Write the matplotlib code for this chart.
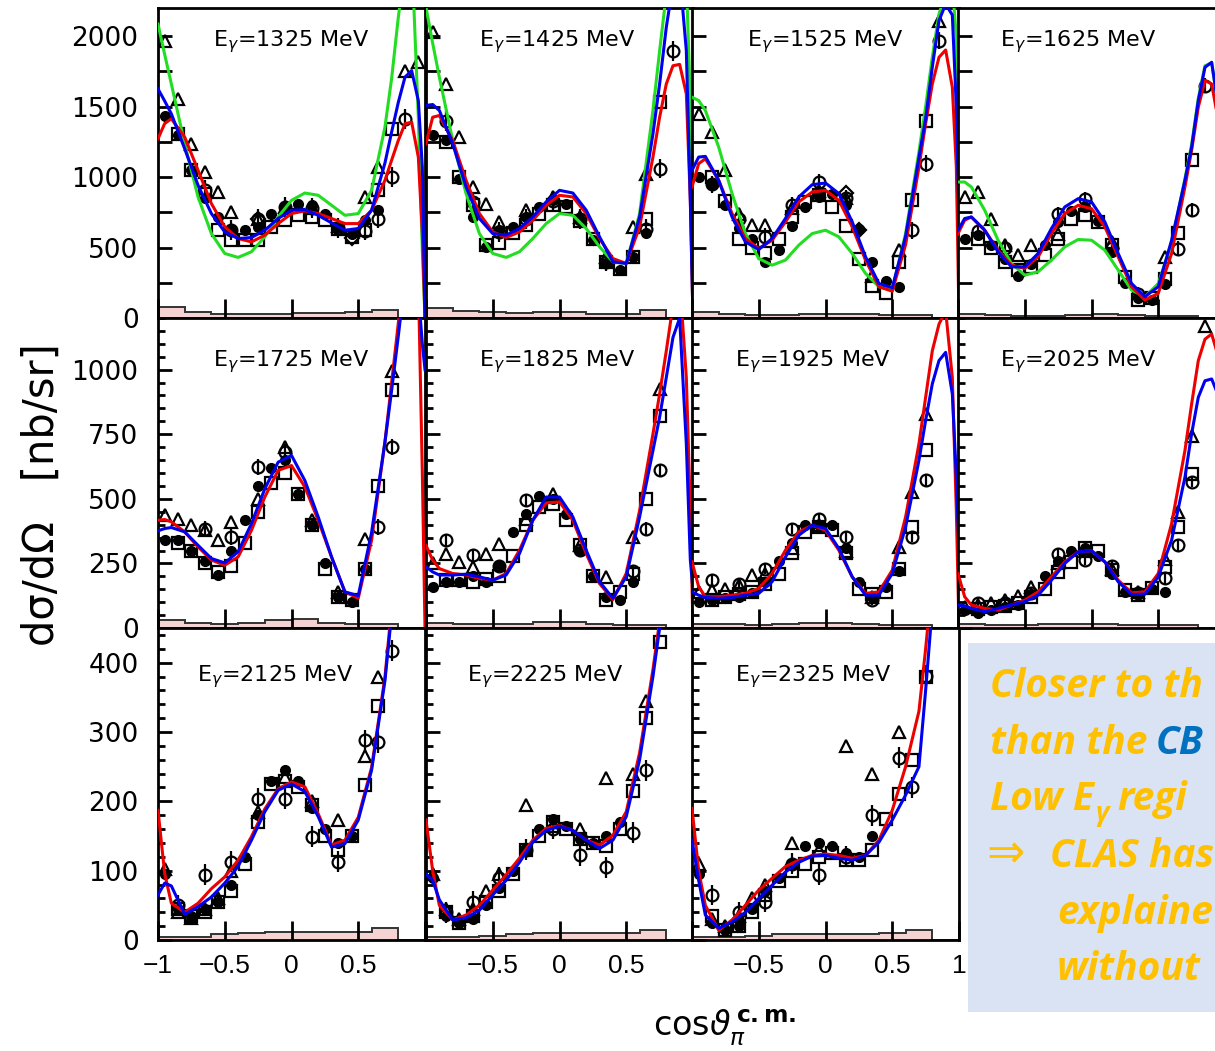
import numpy as np
import matplotlib
matplotlib.use("Agg")
import matplotlib.pyplot as plt
from matplotlib.patches import Rectangle
from matplotlib.ticker import MultipleLocator, FixedLocator

nan = np.nan

ENERGIES = [1325, 1425, 1525, 1625, 1725, 1825, 1925, 2025, 2125, 2225, 2325]

# x grid of the model curves (cos theta)
XC = [-1, -0.95, -0.9, -0.8, -0.7, -0.6, -0.5, -0.4, -0.3, -0.2, -0.1, 0, 0.1,
      0.2, 0.3, 0.4, 0.5, 0.6, 0.7, 0.75, 0.8, 0.85, 0.9, 0.95, 0.98, 1.0]

RED = {
    1325: [1272, 1380, 1414, 1284, 1048, 812, 647, 564, 540, 588, 670, 741, 760, 741, 706, 670, 670, 765, 977, 1120, 1260, 1378, 1390, 1142, 600, 0],
    1425: [1237, 1425, 1437, 1260, 977, 741, 611, 571, 611, 694, 800, 871, 859, 741, 564, 422, 387, 647, 1142, 1425, 1661, 1790, 1800, 1591, 835, 0],
    1525: [930, 1095, 1130, 977, 741, 564, 493, 552, 682, 824, 894, 906, 835, 647, 411, 222, 190, 520, 1071, 1378, 1661, 1850, 1902, 1638, 1071, 0],
    1625: [599, 694, 717, 623, 481, 375, 352, 434, 599, 741, 800, 776, 647, 434, 222, 127, 175, 458, 930, 1190, 1496, 1685, 1661, 1400, 900, 0],
    1725: [417, 420, 411, 372, 314, 263, 243, 275, 378, 507, 610, 629, 546, 417, 275, 140, 115, 340, 720, 950, 1180, 1400, 1500, 1350, 600, 0],
    1825: [320, 263, 230, 211, 205, 192, 185, 211, 301, 417, 484, 488, 417, 288, 172, 110, 211, 455, 751, 906, 1073, 1250, 1350, 970, 455, 0],
    1925: [256, 160, 121, 121, 127, 134, 153, 211, 301, 372, 398, 378, 301, 198, 134, 140, 224, 430, 713, 893, 1073, 1176, 1228, 970, 455, 0],
    2025: [211, 121, 89, 76, 69, 89, 108, 140, 198, 256, 295, 299, 256, 185, 136, 140, 211, 404, 687, 867, 1035, 1118, 1138, 1050, 800, 400],
    2125: [187, 96, 53, 40, 53, 74, 91, 115, 149, 189, 218, 228, 221, 182, 137, 144, 177, 249, 379, 480, 560, 620, 680, 720, 740, 750],
    2225: [173, 100, 50, 29, 36, 50, 72, 94, 118, 144, 161, 165, 158, 144, 137, 151, 185, 270, 390, 460, 540, 600, 650, 690, 700, 700],
    2325: [190, 100, 50, 14, 29, 50, 72, 89, 106, 115, 122, 124, 122, 118, 122, 144, 187, 250, 330, 420, 520, 600, 650, 690, 700, 700],
}

BLUE = {
    1325: [1626, 1540, 1449, 1201, 942, 741, 611, 564, 571, 623, 706, 765, 769, 729, 675, 623, 635, 765, 1100, 1320, 1530, 1709, 1756, 1543, 1071, 0],
    1425: [1508, 1515, 1473, 1237, 930, 706, 599, 588, 635, 717, 824, 906, 887, 765, 576, 399, 387, 717, 1307, 1661, 2063, 2370, 2450, 1897, 835, 0],
    1525: [1048, 1142, 1147, 977, 717, 540, 486, 564, 706, 859, 946, 958, 883, 682, 434, 245, 215, 580, 1140, 1414, 1780, 2110, 2228, 2150, 1500, 700],
    1625: [623, 706, 717, 623, 470, 363, 363, 458, 635, 788, 847, 824, 682, 458, 245, 151, 222, 552, 977, 1213, 1543, 1779, 1815, 1500, 1000, 300],
    1725: [376, 385, 389, 372, 320, 269, 252, 295, 404, 539, 642, 668, 571, 430, 275, 140, 125, 370, 720, 920, 1130, 1350, 1450, 1300, 1100, 1000],
    1825: [237, 217, 205, 205, 208, 198, 185, 205, 288, 417, 507, 507, 430, 301, 179, 115, 198, 430, 687, 816, 970, 1125, 1200, 713, 263, 147],
    1925: [140, 127, 118, 115, 118, 127, 134, 179, 275, 359, 398, 385, 308, 198, 127, 127, 211, 391, 649, 803, 945, 1035, 1067, 906, 584, 300],
    2025: [89, 85, 76, 63, 76, 89, 102, 127, 185, 250, 295, 299, 256, 179, 130, 131, 198, 340, 584, 752, 893, 957, 964, 900, 700, 400],
    2125: [65, 82, 78, 37, 48, 62, 82, 106, 144, 185, 216, 225, 214, 178, 134, 139, 173, 245, 374, 470, 550, 610, 670, 710, 730, 740],
    2225: [95, 86, 58, 29, 32, 43, 65, 86, 112, 141, 158, 164, 158, 144, 132, 144, 178, 260, 380, 450, 530, 590, 640, 680, 690, 690],
    2325: [144, 86, 36, 17, 26, 40, 60, 79, 98, 112, 121, 122, 118, 115, 122, 141, 173, 209, 250, 360, 480, 570, 630, 670, 690, 690],
}

GREEN = {
    1325: [2086, 1870, 1661, 1237, 859, 599, 458, 430, 470, 576, 717, 835, 887, 871, 800, 729, 741, 906, 1355, 1700, 2133, 2500, 2600, 1425, 480, 0],
    1425: [2204, 1950, 1709, 1260, 883, 599, 458, 430, 470, 564, 670, 741, 729, 635, 505, 399, 387, 741, 1473, 1897, 2300, 2600, 2700, 2400, 1543, 0],
    1525: [1567, 1543, 1473, 1213, 883, 599, 422, 375, 411, 517, 599, 623, 576, 458, 316, 222, 198, 600, 1180, 1500, 1850, 2157, 2300, 2350, 2000, 900],
    1625: [965, 965, 930, 765, 552, 387, 304, 328, 411, 505, 557, 552, 481, 340, 198, 151, 245, 530, 990, 1230, 1560, 1790, 1810, 1500, 1000, 300],
}

# data points, one x grid per data set
XF = [-0.95, -0.85, -0.75, -0.65, -0.55, -0.45, -0.35, -0.25, -0.15, -0.05, 0.05, 0.15, 0.25, 0.35, 0.45, 0.55, 0.65]
XS = [-0.85, -0.75, -0.65, -0.55, -0.45, -0.35, -0.25, -0.15, -0.05, 0.05, 0.15, 0.25, 0.35, 0.45, 0.55, 0.65, 0.75]
XT = [-0.95, -0.85, -0.75, -0.65, -0.55, -0.45, -0.25, -0.05, 0.15, 0.35, 0.55, 0.65, 0.75, 0.85, 0.95]
XO = [-0.95, -0.85, -0.65, -0.45, -0.25, -0.05, 0.15, 0.35, 0.55, 0.65, 0.75, 0.85]
XD = [-0.25, 0.15, 0.25, 0.45]

FILLED = {
    1325: [1437, 1300, 1050, 850, 717, 623, 623, 647, 741, 788, 812, 800, 741, 647, 599, 694, 765],
    1425: [1296, 1260, 989, 717, 505, 623, 647, 717, 788, 835, 812, 694, 552, 387, 340, 434, 600],
    1525: [1000, 950, 800, 640, 560, 400, 480, 650, 790, 860, 880, 800, 630, 400, 260, 220, nan],
    1625: [560, 590, 520, 420, 300, 380, 520, 680, 760, 790, 690, 470, 250, 140, 130, 240, nan],
    1725: [340, 340, 300, 260, 205, 300, 420, 550, 620, 650, 520, 400, 250, 120, 100, 230, nan],
    1825: [160, 180, 180, 200, 180, 240, 370, 440, 510, 500, 440, 300, 200, 120, 110, 180, nan],
    1925: [100, 110, 115, 120, 135, 180, 260, 330, 400, 400, 400, 310, 180, 120, 160, 220, nan],
    2025: [70, 60, 70, 80, 90, 130, 200, 260, 300, 310, 280, 210, 140, 130, 150, 140, nan],
    2125: [95, 45, 35, 45, 55, 80, 120, 180, 230, 245, 230, 190, 160, 140, 150, nan, nan],
    2225: [90, 35, 25, 30, 50, 75, 100, 130, 160, 175, 165, 145, 140, 150, 170, nan, nan],
    2325: [95, 25, 15, 20, 45, 70, 90, 110, 135, 140, 135, 125, 120, 150, nan, nan, nan],
}

SQUARE = {
    1325: [1307, 1048, 883, 623, 552, 552, 552, 647, 694, 729, 717, 694, 635, 576, 623, 906, 1343],
    1425: [1250, 1000, 800, 520, 530, 600, 660, 740, 800, 790, 690, 560, 400, 350, 430, 700, 1530],
    1525: [1000, 830, 560, 500, 460, 560, 720, 820, 870, 790, 650, 420, 230, 180, 400, 840, 1400],
    1625: [560, 500, 400, 340, 360, 450, 560, 700, 730, 680, 520, 290, 130, 140, 280, 600, 1120],
    1725: [330, 300, 250, 215, 240, 330, 450, 560, 600, 520, 400, 230, 120, 110, 230, 550, 920],
    1825: [185, 185, 180, 190, 200, 280, 400, 470, 480, 420, 320, 200, 110, 140, 210, 500, 820],
    1925: [110, 120, 130, 140, 170, 210, 290, 370, 390, 380, 290, 150, 130, 140, 230, 390, 690],
    2025: [75, 80, 85, 95, 120, 150, 217, 256, 310, 300, 224, 147, 127, 153, 237, 391, 597],
    2125: [45, 35, 40, 55, 70, 110, 170, 225, 230, 220, 195, 150, 130, 150, 223, 338, nan],
    2225: [40, 25, 35, 55, 70, 95, 130, 150, 170, 160, 145, 140, 135, 160, 215, 320, 430],
    2325: [35, 15, 20, 40, 65, 85, 100, 110, 120, 125, 115, 115, 130, 175, 210, 260, 380],
}

TRIANGLE = {
    1325: [1968, 1555, 1237, 1036, 894, 753, 700, 790, 780, 650, 859, 1071, nan, 1756, 1815],
    1425: [2027, 1661, 1284, 930, 812, 682, 765, 860, 720, 434, 647, 1024, nan, nan, nan],
    1525: [1449, 1319, 1048, 741, 660, 658, 780, 900, 850, 300, 481, nan, nan, 2110, nan],
    1625: [859, 894, 706, 517, 446, 517, 599, 800, 540, nan, 434, nan, nan, nan, nan],
    1725: [436, 423, 398, 378, 340, 411, 501, 700, 420, 140, 346, nan, 996, nan, nan],
    1825: [250, 288, 256, 237, 288, 327, 423, 520, 320, 198, 353, nan, 925, nan, nan],
    1925: [140, 147, 150, 166, 205, 210, 308, 400, 300, 120, 314, 526, 829, nan, nan],
    2025: [80, 89, 95, 108, 125, 160, 250, 300, 230, 140, 269, 449, 745, 1170, nan],
    2125: [103, 40, 32, 45, 60, 100, 185, 235, 200, 173, 266, 379, nan, nan, nan],
    2225: [95, 45, 30, 45, 70, 95, 194, 165, 160, 233, 240, 345, nan, nan, nan],
    2325: [110, 30, 20, 35, 60, 80, 140, 130, 280, 240, 300, nan, nan, nan, nan],
}

OPEN = {
    1325: [nan, nan, 906, 623, 700, 790, 780, 640, 620, 706, 1001, 1414],
    1425: [nan, 1400, 820, 610, 700, 830, 700, 400, nan, 635, 1060, 1897],
    1525: [nan, 950, 700, 576, 800, 965, 850, nan, nan, 623, 1095, 1968],
    1625: [nan, 620, 500, nan, 741, 847, 500, 170, nan, 493, 765, 1650],
    1725: [nan, nan, 385, 353, 623, 681, nan, nan, nan, 391, 700, nan],
    1825: [nan, 340, 282, 240, 494, nan, 301, nan, 220, 385, 610, nan],
    1925: [nan, 185, 172, 230, 385, 423, 353, 108, nan, 353, 571, nan],
    2025: [nan, 95, 95, 134, 288, 262, 240, 134, 192, 320, 565, nan],
    2125: [nan, 50, 94, 113, 204, 204, 149, 113, 288, 285, 417, nan],
    2225: [nan, 40, 55, 90, 130, 160, 122, 105, 155, 245, nan, nan],
    2325: [nan, 65, 40, 55, 110, 94, 120, 180, 263, 220, 381, nan],
}
OPEN_ERR = [70, 70, 60, 50, 30, 25, 20, 20, 15, 15, 15]

DIAMOND = {
    1325: [706, nan, nan, 570],
    1525: [nan, 887, 623, nan],
}

# systematic uncertainty band at the bottom of each panel
SYS_EDGES = [-1, -0.8, -0.6, -0.4, -0.2, 0, 0.2, 0.4, 0.6, 0.8, 1.0]
SYST = {
    1325: [80, 45, 30, 25, 30, 35, 35, 40, 55, 0],
    1425: [70, 50, 40, 35, 40, 40, 30, 30, 60, 0],
    1525: [40, 30, 20, 20, 25, 30, 25, 20, 20, 0],
    1625: [30, 20, 15, 15, 20, 25, 20, 15, 15, 0],
    1725: [30, 20, 15, 20, 30, 35, 20, 15, 15, 0],
    1825: [20, 15, 15, 15, 25, 25, 15, 10, 10, 0],
    1925: [15, 15, 10, 15, 20, 20, 15, 10, 10, 0],
    2025: [15, 10, 10, 15, 15, 15, 10, 10, 10, 0],
    2125: [5, 5, 8, 10, 12, 12, 12, 12, 17, 0],
    2225: [4, 5, 6, 8, 10, 10, 10, 10, 14, 0],
    2325: [4, 4, 6, 8, 9, 9, 9, 10, 14, 0],
}

XTICK_LABELS = [["\u22121", "\u22120.5", "0", "0.5", ""],
                ["", "\u22120.5", "0", "0.5", ""],
                ["", "\u22120.5", "0", "0.5", "1"]]

# ---- layout (pixels of the 1215 x 1051 canvas) ----
W, H = 1215, 1051
COL_LEFT = [158, 426, 692, 958]
PANEL_W = 267
ROW_TOP = [8, 318, 628]
ROW_H = [310, 310, 312]
YMAX = [2200, 1200, 450]
Y_MAJOR = [500, 250, 100]
Y_MINOR = [250, 50, 20]
Y_MINOR_LEN = [10, 5, 5]
TITLE_X = [0.205, 0.2, 0.207, 0.157, 0.205, 0.2, 0.16, 0.157, 0.146, 0.154, 0.16]
TITLE_Y = [0.89, 0.858, 0.843]

fig = plt.figure(figsize=(W / 100, H / 100), dpi=100)

for i, e in enumerate(ENERGIES):
    r, c = divmod(i, 4)
    left, top, h = COL_LEFT[c], ROW_TOP[r], ROW_H[r]
    ax = fig.add_axes([left / W, 1 - (top + h) / H, PANEL_W / W, h / H])
    ax.set_xlim(-1, 1)
    ax.set_ylim(0, YMAX[r])

    ax.stairs(SYST[e], SYS_EDGES, fill=True, color="#f5d3d3", zorder=1)
    ax.stairs(SYST[e], SYS_EDGES, color="#333333", lw=1.4, zorder=1.5)

    mk = dict(linestyle="none", color="k", zorder=2)
    ax.errorbar(XO, OPEN[e], yerr=OPEN_ERR[i], fmt="none", ecolor="k",
                elinewidth=1.6, zorder=2)
    ax.plot(XF, FILLED[e], marker="o", ms=7, mfc="k", mec="k", **mk)
    ax.plot(XS, SQUARE[e], marker="s", ms=8, mfc="none", mec="k", mew=1.6, **mk)
    ax.plot(XT, TRIANGLE[e], marker="^", ms=9, mfc="none", mec="k", mew=1.6, **mk)
    ax.plot(XO, OPEN[e], marker="o", ms=8.5, mfc="none", mec="k", mew=1.6, **mk)
    if e in DIAMOND:
        ax.plot(XD, DIAMOND[e], marker="D", ms=7, mfc="none", mec="k", mew=1.6, **mk)

    if e in GREEN:
        ax.plot(XC, GREEN[e], color="#22dd22", lw=2.2, zorder=3)
    ax.plot(XC, RED[e], color="#ee0000", lw=2.2, zorder=4)
    ax.plot(XC, BLUE[e], color="#0000ee", lw=2.2, zorder=5)

    ax.text(TITLE_X[i], TITLE_Y[r], rf"E$_\gamma$={e} MeV", transform=ax.transAxes,
            fontsize=16, ha="left", va="center", family="DejaVu Sans")

    for s in ax.spines.values():
        s.set_linewidth(2)
    ax.xaxis.set_major_locator(FixedLocator([-1, -0.5, 0, 0.5, 1]))
    ax.yaxis.set_major_locator(MultipleLocator(Y_MAJOR[r]))
    ax.yaxis.set_minor_locator(MultipleLocator(Y_MINOR[r]))
    ax.tick_params(axis="x", direction="in", length=14, width=2, top=False,
                   labelbottom=(r == 2), labelsize=19, pad=10)
    ax.tick_params(axis="y", which="major", direction="in", length=10, width=2,
                   right=False, labelleft=(c == 0), labelsize=19, pad=14)
    ax.tick_params(axis="y", which="minor", direction="in", length=Y_MINOR_LEN[r],
                   width=2, right=False)
    if r == 2:
        ax.set_xticklabels(XTICK_LABELS[c], family="Liberation Sans")
    for lab in ax.get_yticklabels():
        lab.set_family("DejaVu Sans")

# axis titles
fig.text(42 / W, 1 - 495 / H, "d\u03c3/d\u03a9   [nb/sr]", rotation=90, fontsize=30,
         ha="center", va="center", family="DejaVu Sans")
fig.text(725 / W, 1 - 1028 / H, r"cos$\vartheta_{\pi}^{\,\mathbf{c.m.}}$", fontsize=24,
         ha="center", va="center", family="DejaVu Sans")

# text box on the right (overlay axes in pixel units, y downwards)
ov = fig.add_axes([0, 0, 1, 1])
ov.set_xlim(0, W)
ov.set_ylim(H, 0)
ov.axis("off")
ov.add_patch(Rectangle((968, 643), W - 968, 1012 - 643, facecolor="#dae3f3",
                       edgecolor="none", zorder=0))

BOX_FONT = ["Open Sans", "DejaVu Sans"]
ORANGE = "#ffc000"
tk = dict(fontsize=28, fontweight="bold", fontstyle="italic", color=ORANGE,
          family=BOX_FONT, va="baseline", ha="left", zorder=3)
ov.text(990, 697, "Closer to th", **tk)
t2 = ov.text(990, 754, "than the", **tk)
ov.annotate("CB", xy=(1, 754), xycoords=(t2, "data"), xytext=(6, 0),
            textcoords="offset points", **{**tk, "color": "#0070c0"})
t3 = ov.text(990, 810, "Low E", **tk)
tg = ov.annotate("\u03b3", xy=(1, 821), xycoords=(t3, "data"), xytext=(1, 0),
                 textcoords="offset points", **{**tk, "fontsize": 19})
ov.annotate("regi", xy=(1, 810), xycoords=(tg, "data"), xytext=(6, 0),
            textcoords="offset points", **tk)
ov.text(986, 867, "\u21d2", fontsize=33, color=ORANGE, family="DejaVu Sans",
        va="baseline", ha="left", zorder=3)
ov.text(1050, 867, "CLAS has", **tk)
ov.text(1057, 924, "explaine", **tk)
ov.text(1057, 980, "without", **tk)

fig.savefig("out.png", dpi=100)
